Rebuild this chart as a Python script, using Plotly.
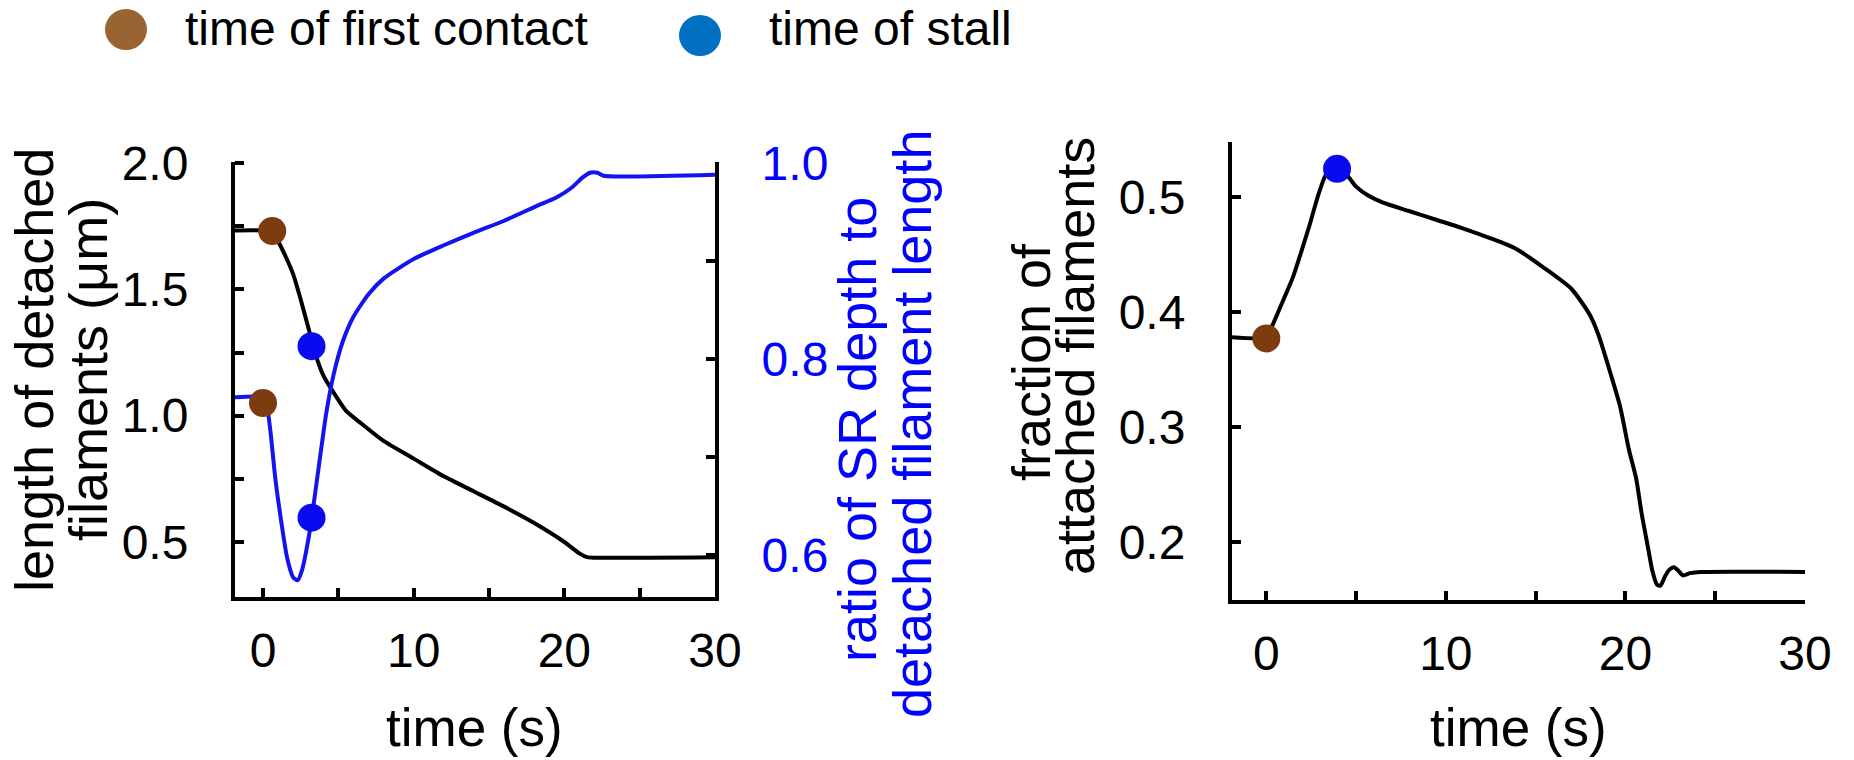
import plotly.graph_objects as go

W, H = 1854, 760

# ---- data ----
len_time = [-1.86, 0, 0.3, 0.6, 1.0, 1.5, 2.0, 2.5, 3.0, 3.5, 4.0, 4.7, 5.5, 6.5, 8, 10, 12, 14, 16, 18, 20, 21, 21.5, 22, 30]
len_vals = [1.733, 1.733, 1.73, 1.72, 1.69, 1.63, 1.56, 1.46, 1.35, 1.24, 1.16, 1.09, 1.02, 0.97, 0.9, 0.83, 0.76, 0.70, 0.64, 0.575, 0.5, 0.455, 0.44, 0.438, 0.44]

ratio_time = [-1.86, 0, 0.2, 0.5, 0.8, 1.2, 1.6, 2.0, 2.3, 2.6, 3.0, 3.3, 3.7, 4.2, 4.7, 5.3, 6, 7, 8, 10, 12, 14, 16, 18, 19.5, 20.5, 21.2, 21.7, 22.2, 22.6, 30]
ratio_vals = [0.761, 0.761, 0.757, 0.725, 0.68, 0.635, 0.597, 0.577, 0.574, 0.585, 0.615, 0.645, 0.69, 0.745, 0.785, 0.818, 0.843, 0.866, 0.882, 0.902, 0.916, 0.929, 0.941, 0.955, 0.965, 0.975, 0.985, 0.99, 0.99, 0.987, 0.988]

frac_time = [-1.91, 0, 0.3, 0.8, 1.5, 2.0, 2.4, 2.9, 3.3, 3.7, 3.9, 4.2, 4.6, 5.0, 5.7, 6.5, 7.9, 9.5, 10.9, 12.5, 13.9, 15.5, 17.0, 18.0, 18.5, 19.2, 19.7, 20.2, 20.6, 20.9, 21.2, 21.5, 21.75, 21.95, 22.2, 22.45, 22.7, 22.95, 23.2, 23.6, 24.2, 30]
frac_vals = [0.378, 0.378, 0.387, 0.405, 0.431, 0.455, 0.475, 0.502, 0.519, 0.527, 0.528, 0.525, 0.517, 0.509, 0.501, 0.495, 0.488, 0.480, 0.473, 0.464, 0.455, 0.438, 0.420, 0.398, 0.380, 0.345, 0.318, 0.280, 0.255, 0.225, 0.200, 0.175, 0.163, 0.162, 0.170, 0.176, 0.178, 0.175, 0.171, 0.173, 0.174, 0.174]

contact_len = (0.61, 1.731)
contact_ratio = (0.0, 0.755)
stall_len = (3.22, 1.275)
stall_ratio = (3.22, 0.638)
contact_frac = (0.0, 0.377)
stall_frac = (3.94, 0.5245)

x_ticks = [0, 10, 20, 30]
x_minor = [5, 15, 25]
len_ticks = [0.5, 1.0, 1.5, 2.0]
len_minor = [0.75, 1.25, 1.75]
ratio_ticks = [0.6, 0.8, 1.0]
ratio_minor = [0.7, 0.9]
frac_ticks = [0.2, 0.3, 0.4, 0.5]

legend_labels = ["time of first contact", "time of stall"]

# ---- styles ----
FONT = "Liberation Sans, Arial, Helvetica, sans-serif"
BROWN = "#7d3c10"
BLUE_DOT = "#0a0af0"
BLUE_LINE = "#1414f0"
BLUE_TXT = "#0000ff"
LEG_BROWN = "#9a6432"
LEG_BLUE = "#0070c0"

def px_x(p):
    return p / W

def px_y(p):
    return 1 - p / H

fig = go.Figure()

fig.add_trace(go.Scatter(x=len_time, y=len_vals, mode="lines",
                         line=dict(color="black", width=4, shape="spline", smoothing=0.6),
                         xaxis="x", yaxis="y", showlegend=False))
fig.add_trace(go.Scatter(x=ratio_time, y=ratio_vals, mode="lines",
                         line=dict(color=BLUE_LINE, width=4, shape="spline", smoothing=0.6),
                         xaxis="x", yaxis="y2", showlegend=False))
fig.add_trace(go.Scatter(x=frac_time, y=frac_vals, mode="lines",
                         line=dict(color="black", width=4, shape="spline", smoothing=0.6),
                         xaxis="x2", yaxis="y3", showlegend=False))

def dot(pt, color, xa, ya):
    fig.add_trace(go.Scatter(x=[pt[0]], y=[pt[1]], mode="markers",
                             marker=dict(color=color, size=28, line=dict(width=0)),
                             xaxis=xa, yaxis=ya, showlegend=False))

dot(contact_len, BROWN, "x", "y")
dot(stall_len, BLUE_DOT, "x", "y")
dot(contact_ratio, BROWN, "x", "y2")
dot(stall_ratio, BLUE_DOT, "x", "y2")
dot(contact_frac, BROWN, "x2", "y3")
dot(stall_frac, BLUE_DOT, "x2", "y3")

TICKFONT = dict(family=FONT, size=48, color="black")
MINOR = dict(ticks="inside", ticklen=9, tickwidth=3.5, tickcolor="black")

def axis(**kw):
    base = dict(showgrid=False, zeroline=False, showline=True, linecolor="black",
                linewidth=4, ticks="inside", ticklen=9, tickwidth=3.5, tickcolor="black",
                tickfont=TICKFONT, automargin=False)
    base.update(kw)
    return base

fig.update_layout(
    template="none",
    width=W, height=H,
    margin=dict(l=0, r=0, t=0, b=0, autoexpand=False),
    paper_bgcolor="white", plot_bgcolor="white",
    showlegend=False,
    xaxis=axis(domain=[px_x(235), px_x(715)], range=[-1.86, 30], anchor="y",
               tickvals=x_ticks, minor=dict(tickvals=x_minor, **MINOR), ticklabelstandoff=8),
    yaxis=axis(domain=[px_y(597), px_y(162)], range=[0.2824, 2.004], anchor="x",
               tickvals=len_ticks, tickformat=".1f",
               minor=dict(tickvals=len_minor, **MINOR), ticklabelstandoff=33),
    yaxis2=axis(overlaying="y", side="right", anchor="x", range=[0.557, 1.001],
                tickvals=ratio_ticks, tickformat=".1f",
                minor=dict(tickvals=ratio_minor, **MINOR), ticklabelstandoff=33,
                tickfont=dict(family=FONT, size=48, color=BLUE_TXT)),
    xaxis2=axis(domain=[px_x(1232), px_x(1805)], range=[-1.91, 30], anchor="y3",
                tickvals=x_ticks, minor=dict(tickvals=x_minor, **MINOR), ticklabelstandoff=8),
    yaxis3=axis(domain=[px_y(600), px_y(142)], range=[0.1496, 0.5478], anchor="x2",
                tickvals=frac_ticks, tickformat=".1f", ticklabelstandoff=33),
)

TITLE = 54

def ann(text, x, y, angle=0, color="black", size=TITLE, xanchor="center", yanchor="middle"):
    fig.add_annotation(text=text, x=px_x(x), y=px_y(y), xref="paper", yref="paper",
                       showarrow=False, textangle=angle, xanchor=xanchor, yanchor=yanchor,
                       font=dict(family=FONT, size=size, color=color))

ann("length of detached", 34, 370, -90)
ann("filaments (μm)", 88, 370, -90)
ann("ratio of SR depth to", 857, 430, -90, color=BLUE_TXT)
ann("detached filament length", 912, 424, -90, color=BLUE_TXT)
ann("fraction of", 1031, 362, -90)
ann("attached filaments", 1075, 356, -90)
ann("time (s)", 474, 759, yanchor="bottom", size=53)
ann("time (s)", 1518, 759, yanchor="bottom", size=53)

# legend
fig.add_shape(type="circle", xref="paper", yref="paper",
              x0=px_x(105), x1=px_x(147), y0=px_y(50), y1=px_y(9),
              fillcolor=LEG_BROWN, line=dict(width=0))
fig.add_shape(type="circle", xref="paper", yref="paper",
              x0=px_x(679), x1=px_x(721), y0=px_y(56), y1=px_y(15),
              fillcolor=LEG_BLUE, line=dict(width=0))
ann(legend_labels[0], 183, 28, size=48, xanchor="left")
ann(legend_labels[1], 767, 28, size=48, xanchor="left")

# the page body gets no default margin, so the figure fills the window exactly
fig.write_html("out.html", config={"displayModeBar": False},
               post_script="document.body.style.margin='0px';")
